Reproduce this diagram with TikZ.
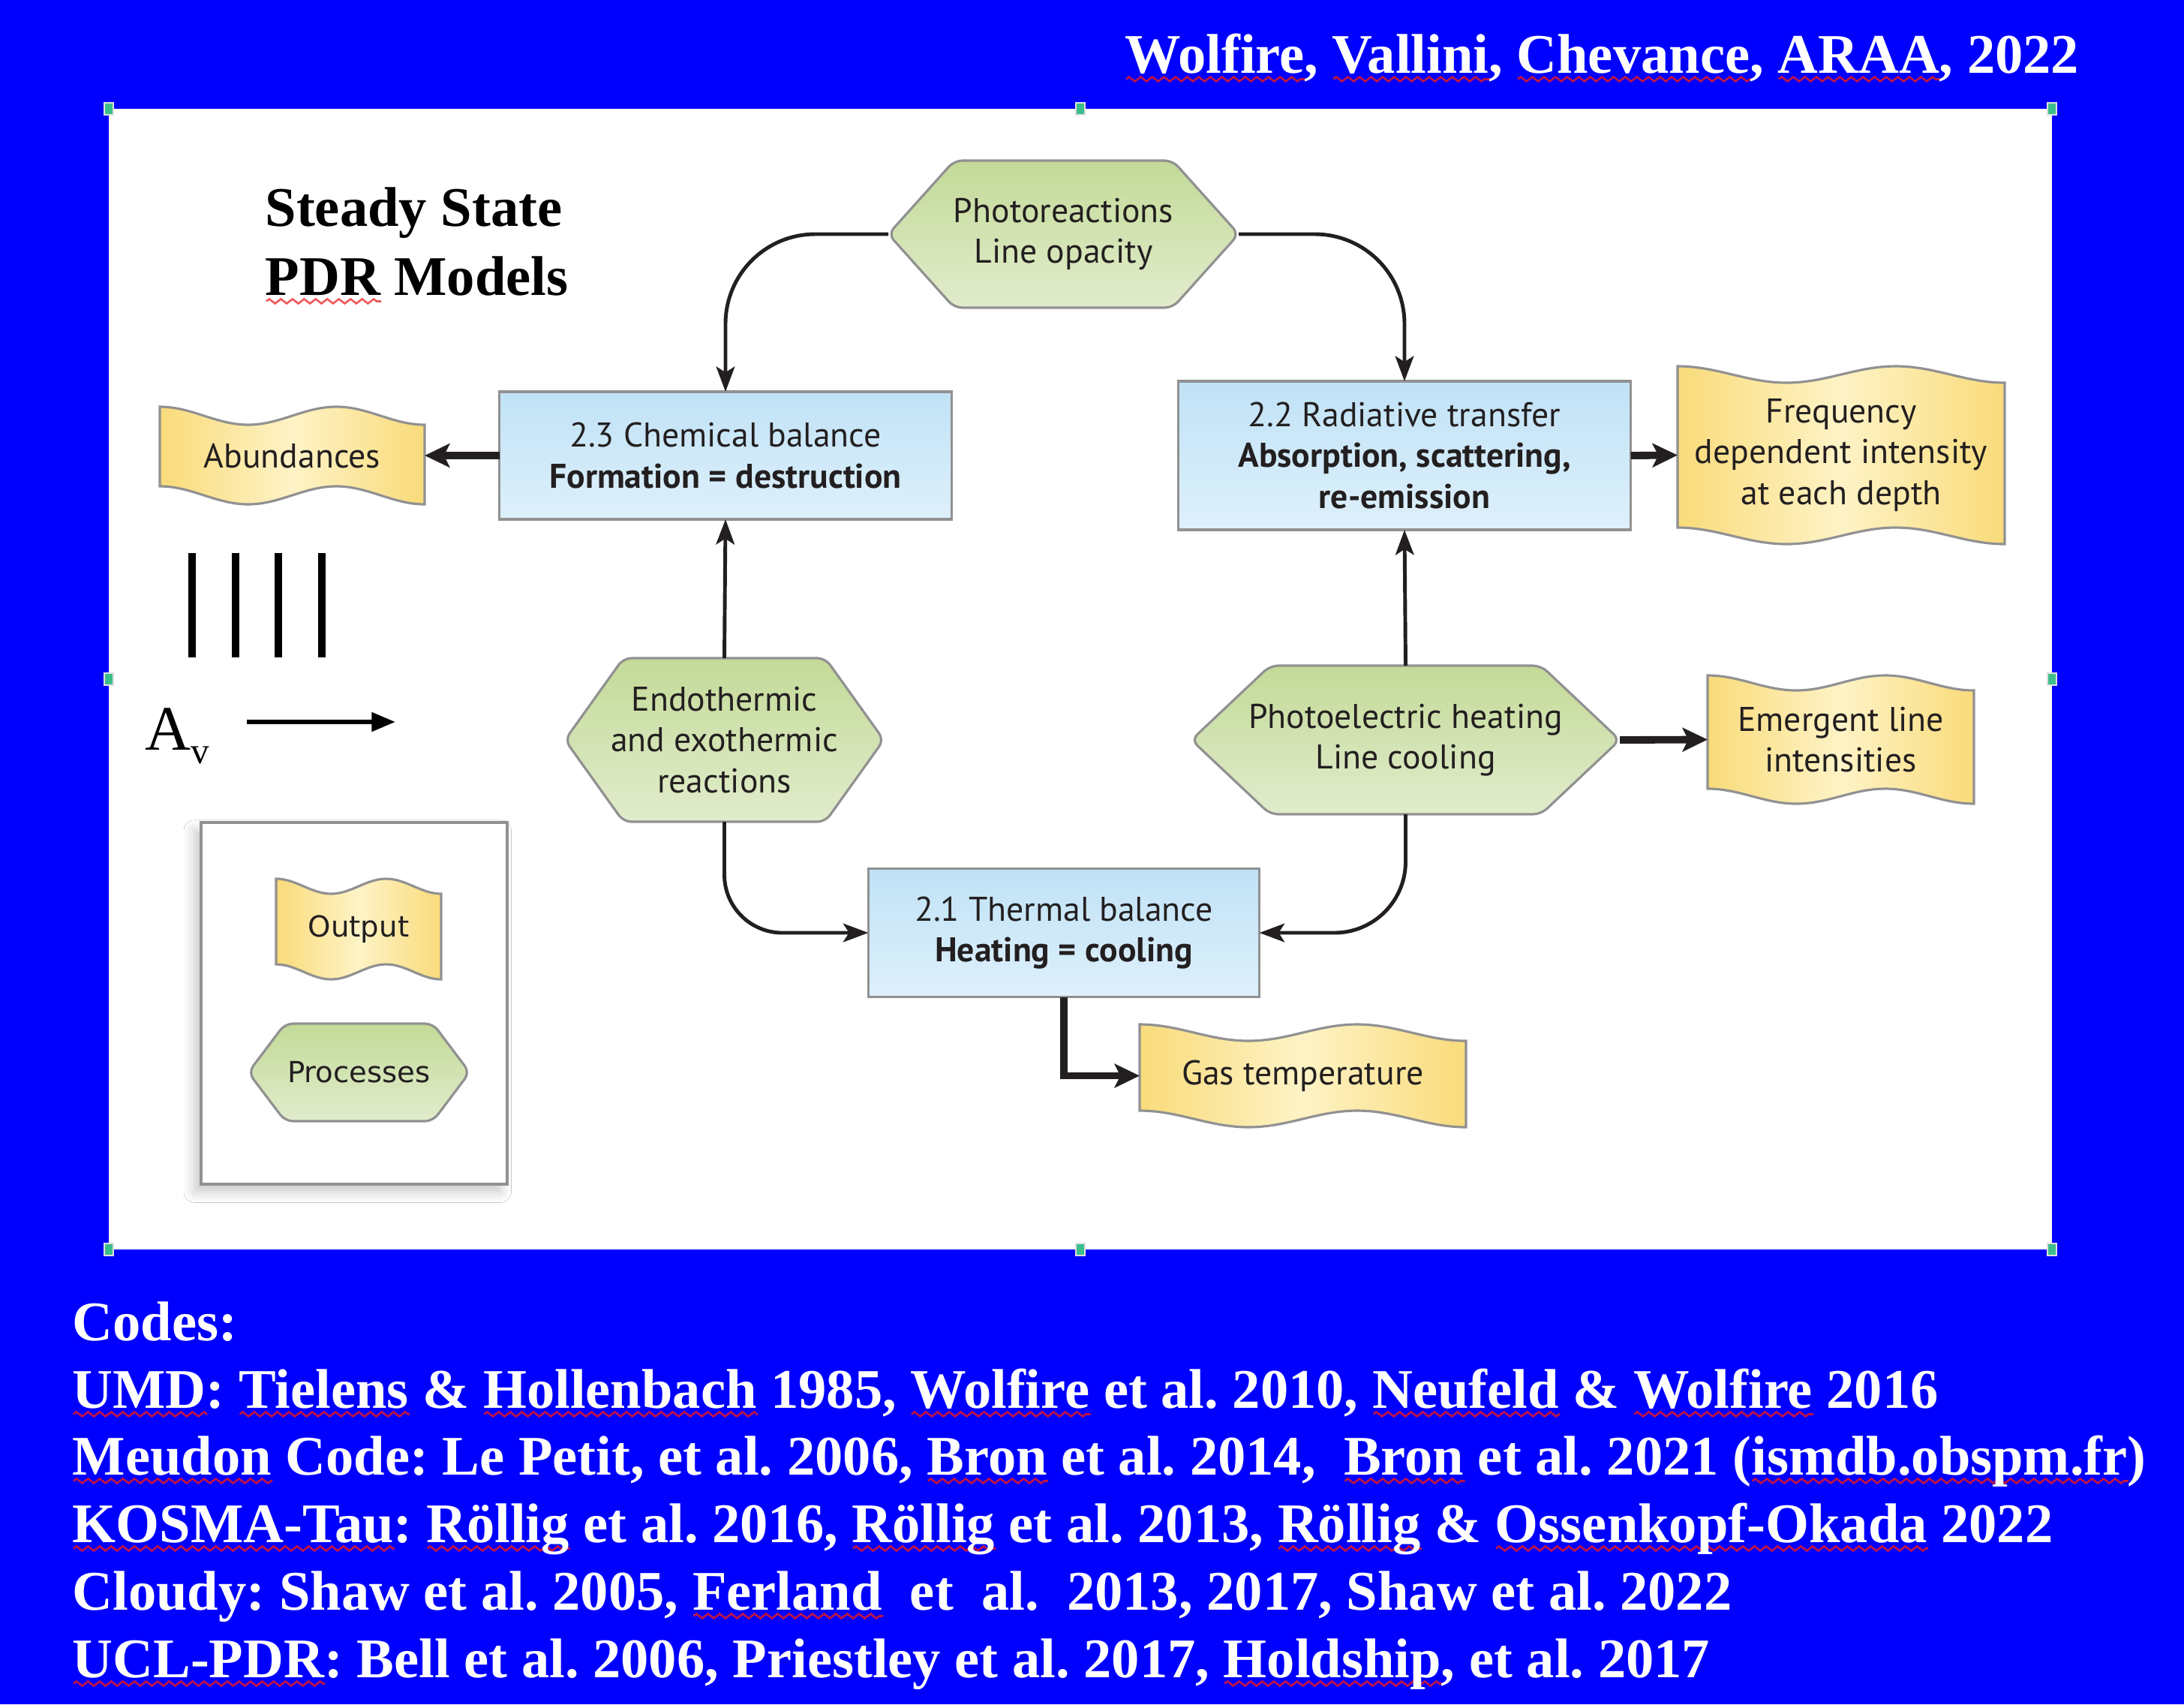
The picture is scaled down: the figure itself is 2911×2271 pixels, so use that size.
\documentclass[tikz,border=0pt]{standalone}
\usepackage{fontspec}
\setmainfont{Liberation Serif}
\newfontfamily\diafont{PT Sans}
\newfontfamily\legfont{DejaVu Sans}
\usetikzlibrary{arrows.meta,calc,shadows.blur,decorations.pathmorphing}
\frenchspacing

\definecolor{slideblue}{RGB}{0,0,255}
\definecolor{squig}{RGB}{190,20,70}
\definecolor{squiglight}{RGB}{240,90,90}
\definecolor{boxtop}{RGB}{192,226,246}
\definecolor{boxbot}{RGB}{222,240,251}
\definecolor{hextop}{RGB}{195,218,152}
\definecolor{hexbot}{RGB}{225,236,204}
\definecolor{waveedge}{RGB}{249,219,122}
\definecolor{wavemid}{RGB}{254,243,198}
\definecolor{outline}{RGB}{145,145,145}
\definecolor{ink}{RGB}{35,31,32}
\definecolor{handle}{RGB}{60,190,140}

% wavy spell-check style underline
\newlength\sqwidth
\newcommand\sq[2][squig]{\setbox0=\hbox{#2}\sqwidth=\wd0\relax
  \rlap{\tikz[baseline=0pt,x=1pt,y=1pt]\draw[#1, line width=0.75pt,
      decorate, decoration={zigzag, segment length=4.4pt, amplitude=0.85pt}]
      (0pt,-2.4pt) -- (\sqwidth,-2.4pt);}\box0\relax}

\tikzset{
  panelhandle/.style={fill=handle, draw=white!75!gray, line width=0.6pt},
  procbox/.style={draw=outline, line width=0.9pt, top color=boxtop, bottom color=boxbot,
    text=ink, align=center, inner sep=0pt, outer sep=0pt,
    font=\diafont\fontsize{13}{15.4}\selectfont},
  hexpaint/.style={draw=outline, line width=0.9pt, top color=hextop, bottom color=hexbot,
    rounded corners=3pt},
  hextext/.style={text=ink, align=center, inner sep=0pt, outer sep=0pt,
    font=\diafont\fontsize{13}{15.4}\selectfont},
  wavepaint/.style={draw=outline, line width=0.9pt, left color=waveedge, right color=waveedge,
    middle color=wavemid},
  wavetext/.style={text=ink, align=center, inner sep=0pt, outer sep=0pt,
    font=\diafont\fontsize{13}{15.4}\selectfont},
  conn/.style={draw=ink, line width=1.4pt, -{Stealth[length=9.5pt,width=7pt,inset=2.2pt]}},
  thickconn/.style={draw=ink, line width=2.8pt, line join=miter,
    -{Stealth[length=9.5pt,width=9pt,inset=2.2pt]}},
  slidetext/.style={text=white, inner sep=0pt, anchor=base west,
    font=\bfseries\fontsize{21.2}{25}\selectfont},
}

% hexagonal process shape: name, x0, y0, x1, y1, tip inset, text
\newcommand\hexnode[7]{%
  \path[hexpaint] (#2,{(#3+#5)/2}) -- ({#2+#6},#3) -- ({#4-#6},#3) -- (#4,{(#3+#5)/2})
    -- ({#4-#6},#5) -- ({#2+#6},#5) -- cycle;
  \node[hextext, minimum width={(#4-#2)*0.01cm}, minimum height={(#5-#3)*0.01cm}]
    (#1) at ({(#2+#4)/2},{(#3+#5)/2}) {#7};
}
% wavy output shape: name, x0, y0, x1, y1, wave depth, text
\newcommand\wavenode[7]{%
  \pgfmathsetmacro\wL{(#4-#2)/6}%
  \pgfmathsetmacro\wH{(#6)/2}%
  \path[wavepaint] (#2,#3)
     cos ++(\wL,\wH) sin ++(\wL,\wH) cos ++(\wL,-\wH) sin ++(\wL,-\wH)
     cos ++(\wL,\wH) sin ++(\wL,\wH) -- (#4,#5)
     cos ++(-\wL,-\wH) sin ++(-\wL,-\wH) cos ++(-\wL,\wH) sin ++(-\wL,\wH)
     cos ++(-\wL,-\wH) sin ++(-\wL,-\wH) -- cycle;
  \node[wavetext, minimum width={(#4-#2)*0.01cm}, minimum height={(#5-#3)*0.01cm}]
    (#1) at ({(#2+#4)/2},{(#3+#5)/2}) {#7};
}

\begin{document}
\begin{tikzpicture}[x=0.01cm,y=-0.01cm]
  \useasboundingbox (0,0) rectangle (2911,2271);
  \fill[slideblue] (0,0) rectangle (2911,2271);

  % white figure panel with its selection handles
  \fill[white] (145,145) rectangle (2735,1665);
  \foreach \hx/\hy in {145/145,1440/145,2735/145,145/905,2735/905,145/1665,1440/1665,2735/1665}
    \path[panelhandle] ({\hx-6},{\hy-8}) rectangle ({\hx+6},{\hy+8});

  % slide headings
  \node[slidetext, anchor=base east] (ref) at (2772,97)
    {\sq{Wolfire}, \sq{Vallini}, \sq{Chevance}, \sq{ARAA}, 2022};
  \node[slidetext, text=black] (head1) at (353,301) {Steady State};
  \node[slidetext, text=black] (head2) at (353,393) {\sq[squiglight]{PDR} Models};

  % processes
  \hexnode{photo}{1184}{214}{1651}{410}{88}{Photoreactions\\Line opacity}
  \hexnode{endo}{753}{877}{1178}{1095}{78}{Endothermic\\and exothermic\\reactions}
  \hexnode{pe}{1588}{887}{2159}{1085}{105}{Photoelectric heating\\Line cooling}

  % balance equations
  \node[procbox, minimum width=6.02cm, minimum height=1.70cm] (chem) at (967,607)
    {2.3 Chemical balance\\\textbf{Formation = destruction}};
  \node[procbox, minimum width=6.03cm, minimum height=1.98cm] (rad) at (1872,607)
    {2.2 Radiative transfer\\\textbf{Absorption, scattering,}\\\textbf{re-emission}};
  \node[procbox, minimum width=5.21cm, minimum height=1.71cm] (thermal) at (1418,1243)
    {2.1 Thermal balance\\\textbf{Heating = cooling}};

  % outputs
  \wavenode{abund}{213}{542}{566}{672}{24}{Abundances}
  \wavenode{freq}{2236}{488}{2672}{725}{22}{Frequency\\dependent intensity\\at each depth}
  \wavenode{emerg}{2276}{900}{2631}{1071}{20}{Emergent line\\intensities}
  \wavenode{gas}{1519}{1365}{1954}{1502}{22}{Gas temperature}

  % flow between the blocks
  \draw[conn, rounded corners=34pt] (photo.west) -| (chem.north);
  \draw[conn, rounded corners=34pt] (photo.east) -| (rad.north);
  \draw[conn] (endo.north) -- (chem.south);
  \draw[conn] (pe.north) -- (rad.south);
  \draw[conn, rounded corners=22pt] (endo.south) |- (thermal.west);
  \draw[conn, rounded corners=27pt] (pe.south) |- (thermal.east);
  \draw[thickconn] (chem.west) -- (abund.east);
  \draw[thickconn] (rad.east) -- (freq.west);
  \draw[thickconn] (pe.east) -- (emerg.west);
  \draw[thickconn] (thermal.south) |- (gas.west);

  % depth slabs and the A_v direction
  \foreach \bx in {256,314,371,429}
    \draw[line width=2.7pt] (\bx,737) -- (\bx,876);
  \node[inner sep=0pt, anchor=base west, font=\fontsize{24}{28}\selectfont] (av) at (193,999)
    {A\raisebox{-0.22em}{\fontsize{14}{14}\selectfont v}};
  \coordinate (avfrom) at (329,962);
  \coordinate (avto) at (527,962);
  \draw[line width=1.7pt, -{Triangle[length=9pt,width=7pt]}] (avfrom) -- (avto);

  % legend
  \node[draw=outline, line width=1.1pt, fill=white, minimum width=4.08cm, minimum height=4.81cm,
    blur shadow={shadow xshift=-2.5pt, shadow yshift=-3pt, shadow blur radius=4pt,
      shadow blur steps=8, shadow opacity=22}]
    (legend) at (472,1337) {};
  \wavenode{outkey}{368}{1171}{588}{1305}{20}{\legfont\fontsize{11}{13}\selectfont Output}
  \hexnode{prockey}{331}{1364}{626}{1494}{49}{\legfont\fontsize{11}{13}\selectfont Processes}

  % list of codes
  \node[slidetext] (codes) at (96,1786) {Codes:};
  \node[slidetext] (umd) at (96,1876)
    {\sq{UMD}: \sq{Tielens} \& \sq{Hollenbach} 1985, \sq{Wolfire} et al. 2010, \sq{Neufeld} \& \sq{Wolfire} 2016};
  \node[slidetext] (meudon) at (96,1965)
    {\sq{Meudon} Code: Le Petit, et al. 2006, \sq{Bron} et al. 2014,\ \ \sq{Bron} et al. 2021 (\sq{ismdb.obspm.fr})};
  \node[slidetext] (kosma) at (96,2055)
    {\sq{KOSMA-Tau}: \sq{Röllig} et al. 2016, \sq{Röllig} et al. 2013, \sq{Röllig} \& \sq{Ossenkopf-Okada} 2022};
  \node[slidetext] (cloudy) at (96,2145)
    {Cloudy: Shaw et al. 2005, \sq{Ferland}\ \ et\ \ al.\ \ 2013, 2017, Shaw et al. 2022};
  \node[slidetext] (ucl) at (96,2235)
    {\sq{UCL-PDR}: Bell et al. 2006, Priestley et al. 2017, \sq{Holdship}, et al. 2017};
\end{tikzpicture}
\end{document}
